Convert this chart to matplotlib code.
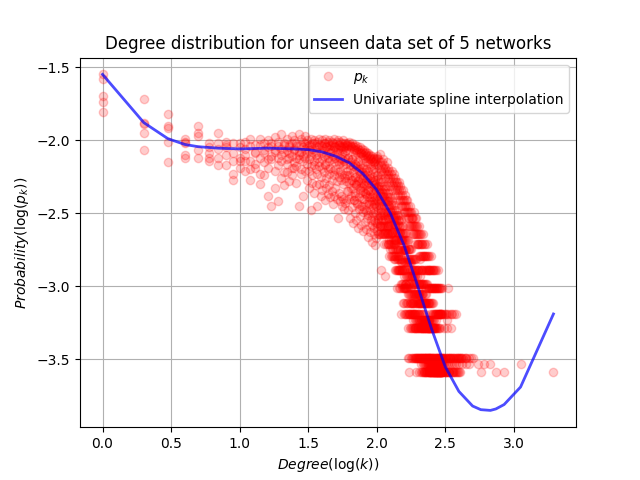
import numpy as np
import matplotlib
matplotlib.use("Agg")
import matplotlib.pyplot as plt

# ---------------- data ----------------
# sizes (number of nodes) of the 5 networks
network_sizes = [3090, 3890, 3390, 3890, 3090]

# log10(p_k) for degrees k = 1..100 (one list per network)
logp_net1 = [
    -1.55, -1.72, -1.82, -1.99, -1.90, -2.02, -1.95, -2.01, -2.02, -2.02,
    -2.01, -1.99, -2.03, -1.99, -2.02, -2.00, -2.04, -1.98, -2.01, -1.96,
    -2.02, -1.99, -2.03, -1.97, -2.00, -2.02, -1.96, -1.99, -2.01, -1.97,
    -2.00, -2.03, -1.99, -2.02, -2.00, -2.04, -2.01, -1.99, -2.03, -2.00,
    -2.02, -1.99, -2.04, -2.01, -2.00, -2.03, -2.01, -2.02, -1.99, -2.05,
    -2.01, -2.00, -2.03, -2.01, -2.04, -2.02, -2.00, -2.05, -2.02, -2.03,
    -2.02, -2.04, -2.01, -2.03, -2.05, -2.02, -2.04, -2.06, -2.03, -2.05,
    -2.07, -2.04, -2.06, -2.08, -2.05, -2.07, -2.09, -2.06, -2.08, -2.10,
    -2.07, -2.09, -2.11, -2.08, -2.10, -2.12, -2.09, -2.11, -2.13, -2.10,
    -2.12, -2.14, -2.11, -2.13, -2.15, -2.12, -2.14, -2.16, -2.13, -2.12,
]
logp_net2 = [
    -1.58, -1.88, -1.90, -2.02, -1.95, -2.09, -2.02, -2.05, -2.09, -2.05,
    -2.06, -2.04, -2.09, -2.03, -2.07, -2.05, -2.02, -2.08, -2.04, -2.06,
    -2.03, -2.07, -2.05, -2.02, -2.06, -2.04, -2.08, -2.03, -2.05, -2.02,
    -2.04, -2.07, -2.03, -2.06, -2.02, -2.08, -2.05, -2.03, -2.07, -2.04,
    -2.06, -2.02, -2.05, -2.08, -2.04, -2.06, -2.03, -2.07, -2.05, -2.04,
    -2.08, -2.06, -2.03, -2.07, -2.05, -2.09, -2.06, -2.04, -2.08, -2.07,
    -2.03, -2.12, -2.06, -2.15, -2.04, -2.13, -2.18, -2.07, -2.16, -2.10,
    -2.19, -2.08, -2.14, -2.21, -2.11, -2.17, -2.09, -2.22, -2.13, -2.19,
    -2.24, -2.12, -2.20, -2.15, -2.26, -2.14, -2.21, -2.27, -2.16, -2.24,
    -2.18, -2.29, -2.20, -2.25, -2.31, -2.19, -2.27, -2.22, -2.32, -2.24,
]
logp_net3 = [
    -1.70, -1.89, -1.92, -2.10, -1.97, -2.12, -2.06, -2.10, -2.14, -2.12,
    -2.10, -2.14, -2.08, -2.12, -2.09, -2.13, -2.11, -2.07, -2.12, -2.10,
    -2.08, -2.13, -2.09, -2.11, -2.07, -2.12, -2.10, -2.08, -2.11, -2.06,
    -2.09, -2.13, -2.11, -2.08, -2.14, -2.10, -2.12, -2.15, -2.09, -2.13,
    -2.11, -2.16, -2.10, -2.12, -2.14, -2.09, -2.13, -2.11, -2.15, -2.12,
    -2.10, -2.14, -2.16, -2.12, -2.15, -2.13, -2.17, -2.14, -2.12, -2.16,
    -2.21, -2.12, -2.24, -2.17, -2.27, -2.13, -2.22, -2.29, -2.16, -2.25,
    -2.31, -2.18, -2.27, -2.20, -2.33, -2.23, -2.29, -2.19, -2.35, -2.26,
    -2.31, -2.22, -2.37, -2.28, -2.24, -2.34, -2.29, -2.39, -2.26, -2.35,
    -2.31, -2.42, -2.28, -2.37, -2.33, -2.44, -2.30, -2.39, -2.35, -2.41,
]
logp_net4 = [
    -1.74, -1.95, -2.01, -2.12, -2.07, -2.14, -2.12, -2.17, -2.23, -2.14,
    -2.14, -2.20, -2.16, -2.23, -2.15, -2.19, -2.13, -2.21, -2.17, -2.14,
    -2.22, -2.16, -2.12, -2.19, -2.15, -2.18, -2.13, -2.20, -2.14, -2.12,
    -2.16, -2.21, -2.18, -2.24, -2.17, -2.20, -2.23, -2.18, -2.25, -2.19,
    -2.22, -2.17, -2.26, -2.20, -2.23, -2.19, -2.27, -2.21, -2.24, -2.20,
    -2.28, -2.22, -2.25, -2.21, -2.27, -2.23, -2.30, -2.24, -2.26, -2.28,
    -2.24, -2.35, -2.29, -2.20, -2.38, -2.27, -2.33, -2.41, -2.25, -2.36,
    -2.30, -2.43, -2.28, -2.39, -2.34, -2.26, -2.45, -2.32, -2.40, -2.29,
    -2.47, -2.36, -2.31, -2.44, -2.38, -2.50, -2.34, -2.42, -2.48, -2.37,
    -2.44, -2.52, -2.39, -2.46, -2.41, -2.55, -2.43, -2.49, -2.45, -2.57,
]
logp_net5 = [
    -1.81, -2.07, -2.15, -2.01, -2.12, -2.05, -2.17, -2.03, -2.27, -2.19,
    -2.21, -2.27, -2.19, -2.30, -2.24, -2.38, -2.45, -2.33, -2.42, -2.26,
    -2.31, -2.22, -2.28, -2.24, -2.19, -2.29, -2.45, -2.23, -2.38, -2.21,
    -2.27, -2.33, -2.48, -2.29, -2.36, -2.31, -2.45, -2.30, -2.38, -2.34,
    -2.29, -2.41, -2.33, -2.37, -2.31, -2.39, -2.35, -2.44, -2.38, -2.33,
    -2.40, -2.53, -2.36, -2.42, -2.38, -2.45, -2.40, -2.47, -2.43, -2.41,
    -2.35, -2.48, -2.40, -2.53, -2.33, -2.46, -2.57, -2.41, -2.50, -2.38,
    -2.55, -2.44, -2.60, -2.47, -2.36, -2.52, -2.58, -2.45, -2.62, -2.49,
    -2.40, -2.56, -2.61, -2.48, -2.53, -2.66, -2.51, -2.44, -2.59, -2.63,
    -2.55, -2.70, -2.58, -2.50, -2.64, -2.60, -2.72, -2.56, -2.67, -2.62,
]

# node counts for degrees k = 101..300 (one list per network)
cnt_net1 = [
    24, 21, 23, 20, 22, 25, 19, 21, 22, 18, 20, 23, 19, 21, 17, 20, 18, 22, 19, 17,
    18, 20, 16, 19, 17, 15, 18, 16, 19, 14, 17, 15, 18, 16, 14, 17, 13, 16, 15, 14,
    16, 13, 15, 12, 14, 16, 13, 12, 15, 11, 14, 12, 13, 11, 12, 14, 10, 12, 11, 13,
    11, 10, 12, 9, 11, 10, 12, 9, 10, 11, 8, 10, 9, 11, 8, 10, 9, 8, 10, 9,
    8, 9, 7, 9, 8, 10, 7, 8, 9, 7, 8, 6, 8, 7, 9, 6, 7, 8, 6, 7,
    6, 7, 5, 8, 6, 5, 7, 6, 4, 6, 7, 5, 6, 5, 4, 6, 5, 7, 5, 4,
    5, 6, 4, 5, 3, 5, 6, 4, 5, 4, 3, 5, 4, 6, 4, 3, 5, 4, 3, 4,
    4, 3, 5, 3, 4, 2, 4, 3, 4, 5, 3, 2, 4, 3, 3, 4, 2, 3, 4, 3,
    3, 2, 4, 3, 2, 3, 4, 2, 3, 2, 3, 4, 2, 3, 2, 1, 3, 2, 4, 2,
    2, 3, 2, 1, 3, 2, 3, 2, 1, 2, 3, 2, 2, 1, 3, 2, 2, 1, 2, 3,
]
cnt_net2 = [
    22, 19, 21, 18, 20, 17, 21, 19, 16, 20, 18, 17, 19, 16, 18, 15, 17, 19, 16, 15,
    17, 14, 16, 15, 13, 16, 14, 12, 15, 13, 14, 12, 13, 11, 14, 12, 10, 13, 11, 12,
    10, 12, 11, 9, 11, 10, 12, 9, 10, 8, 11, 9, 10, 8, 9, 10, 7, 9, 8, 9,
    7, 8, 9, 7, 8, 6, 8, 7, 6, 8, 7, 6, 7, 5, 7, 6, 5, 7, 6, 5,
    6, 5, 6, 4, 5, 6, 5, 4, 6, 5, 4, 5, 6, 4, 5, 3, 5, 4, 4, 5,
    5, 4, 3, 5, 4, 6, 4, 3, 5, 4, 3, 4, 5, 3, 4, 2, 4, 3, 4, 3,
    3, 4, 2, 3, 4, 3, 2, 3, 4, 2, 3, 2, 3, 4, 2, 3, 2, 3, 2, 3,
    2, 3, 2, 1, 3, 2, 2, 3, 1, 2, 2, 3, 2, 1, 2, 2, 1, 3, 2, 2,
    2, 1, 2, 1, 2, 0, 2, 1, 2, 1, 1, 2, 0, 1, 2, 1, 1, 0, 2, 1,
    1, 0, 1, 2, 1, 1, 0, 1, 1, 0, 2, 1, 0, 1, 1, 0, 1, 1, 0, 1,
]
cnt_net3 = [
    14, 16, 13, 15, 12, 14, 13, 11, 15, 12, 13, 14, 11, 12, 4, 10, 12, 11, 13, 10,
    11, 10, 12, 9, 11, 10, 9, 11, 8, 10, 9, 8, 10, 9, 7, 9, 8, 10, 7, 8,
    8, 7, 9, 6, 8, 7, 6, 8, 7, 5, 7, 6, 7, 5, 6, 7, 5, 6, 4, 6,
    5, 6, 4, 5, 6, 4, 5, 3, 5, 4, 5, 4, 3, 5, 4, 3, 4, 5, 3, 4,
    3, 4, 3, 4, 2, 4, 3, 3, 4, 2, 3, 4, 2, 3, 3, 2, 4, 3, 2, 3,
    3, 2, 3, 2, 3, 4, 2, 3, 2, 2, 3, 1, 3, 2, 2, 3, 2, 1, 3, 2,
    2, 1, 2, 3, 2, 2, 1, 2, 2, 1, 3, 2, 1, 2, 2, 1, 2, 1, 2, 1,
    1, 2, 2, 1, 1, 2, 1, 0, 2, 1, 1, 2, 1, 1, 0, 2, 1, 1, 1, 0,
    1, 1, 0, 2, 1, 0, 1, 1, 1, 0, 1, 2, 0, 1, 1, 0, 1, 0, 1, 1,
    0, 1, 1, 0, 1, 0, 1, 1, 0, 1, 0, 1, 1, 0, 0, 1, 0, 1, 1, 0,
]
cnt_net4 = [
    12, 13, 11, 14, 10, 12, 11, 13, 10, 12, 9, 11, 12, 10, 11, 9, 10, 12, 9, 10,
    9, 10, 8, 9, 10, 7, 9, 8, 7, 9, 8, 7, 8, 6, 8, 7, 6, 8, 7, 6,
    7, 6, 5, 7, 6, 5, 6, 7, 5, 4, 6, 5, 4, 6, 3, 4, 5, 3, 5, 4,
    4, 5, 3, 4, 4, 3, 5, 3, 4, 2, 4, 1, 4, 3, 2, 3, 4, 3, 2, 3,
    3, 2, 3, 3, 2, 3, 2, 4, 2, 3, 2, 2, 3, 1, 2, 3, 2, 2, 3, 2,
    2, 3, 2, 1, 3, 2, 2, 3, 1, 2, 3, 2, 1, 2, 2, 3, 1, 2, 2, 1,
    2, 1, 2, 2, 1, 3, 1, 2, 1, 2, 1, 1, 2, 1, 2, 0, 1, 2, 1, 1,
    1, 2, 1, 1, 0, 1, 2, 1, 1, 0, 1, 2, 1, 0, 1, 1, 1, 0, 2, 1,
    1, 0, 1, 1, 0, 1, 1, 0, 1, 1, 0, 1, 0, 1, 1, 0, 1, 0, 0, 1,
    1, 0, 1, 0, 1, 0, 0, 1, 1, 0, 0, 1, 0, 1, 0, 0, 1, 0, 1, 0,
]
cnt_net5 = [
    8, 7, 9, 7, 8, 7, 4, 8, 7, 9, 7, 8, 7, 6, 8, 7, 6, 8, 7, 6,
    6, 7, 5, 6, 7, 6, 5, 6, 7, 5, 6, 5, 6, 5, 4, 6, 5, 4, 5, 4,
    3, 5, 4, 5, 4, 3, 4, 5, 3, 4, 2, 4, 3, 4, 3, 4, 3, 2, 3, 3,
    3, 2, 3, 2, 3, 2, 3, 1, 2, 3, 2, 2, 1, 3, 2, 2, 1, 2, 3, 2,
    2, 1, 2, 2, 1, 2, 1, 2, 2, 1, 2, 1, 1, 2, 1, 2, 1, 1, 2, 1,
    1, 2, 1, 1, 2, 1, 0, 1, 2, 1, 1, 0, 2, 1, 1, 1, 0, 2, 1, 1,
    1, 0, 1, 1, 2, 1, 0, 1, 1, 0, 1, 1, 0, 1, 1, 0, 1, 0, 1, 1,
    0, 1, 1, 0, 1, 0, 1, 1, 0, 1, 0, 0, 1, 1, 0, 1, 0, 0, 1, 0,
    1, 0, 0, 1, 0, 1, 0, 0, 1, 0, 1, 0, 0, 1, 0, 0, 1, 0, 0, 1,
    0, 0, 1, 0, 1, 0, 0, 0, 1, 0, 0, 1, 0, 0, 1, 0, 0, 0, 1, 0,
]

# high-degree tail (k > 300): degrees present and their node counts
tail_k_net1 = [302, 305, 308, 311, 314, 317, 320, 323, 326, 329, 331, 334, 337,
               341, 344, 347, 350, 354, 357, 361, 365, 369, 373, 377, 380, 385,
               390, 396, 402, 409, 415, 422, 430, 441, 452, 468, 487, 501]
tail_c_net1 = [2, 1, 2, 1, 2, 1, 2, 1, 2, 1, 3, 1, 2, 1, 1, 2, 1, 1, 2, 1,
               1, 2, 1, 1, 2, 1, 1, 1, 1, 1, 1, 1, 1, 1, 1, 1, 1, 1]
tail_k_net2 = [302, 306, 309, 313, 318, 322, 327, 331, 336, 340, 347, 352, 359,
               366, 374, 383, 392, 404, 575, 741]
tail_c_net2 = [1, 1, 2, 1, 1, 1, 2, 1, 1, 1, 2, 1, 1, 1, 1, 1, 1, 1, 1, 1]
tail_k_net3 = [303, 311, 318, 326, 334, 345, 356, 368, 381, 397, 420, 446, 470,
               550, 603, 676, 1122]
tail_c_net3 = [1, 1, 1, 2, 1, 1, 1, 1, 1, 1, 1, 1, 1, 1, 1, 1, 1]
tail_k_net4 = [305, 314, 323, 335, 348, 362, 379, 399, 851, 1950]
tail_c_net4 = [1, 1, 1, 1, 1, 1, 1, 1, 1, 1]
tail_k_net5 = [306, 318, 329, 343, 361, 384, 412, 447]
tail_c_net5 = [1, 1, 1, 1, 1, 1, 1, 1]

# univariate spline curve (log k, log p_k)
spline_x = [0.0, 0.301, 0.477, 0.602, 0.699, 0.845, 1.0, 1.2, 1.4, 1.5, 1.6,
            1.7, 1.8, 1.9, 2.0, 2.1, 2.2, 2.3, 2.4, 2.5, 2.6, 2.7, 2.76, 2.83,
            2.87, 2.93, 3.05, 3.29]
spline_y = [-1.55, -1.88, -1.99, -2.03, -2.045, -2.055, -2.06, -2.055, -2.06,
            -2.065, -2.08, -2.11, -2.155, -2.23, -2.34, -2.50, -2.72, -3.00,
            -3.29, -3.55, -3.72, -3.82, -3.845, -3.85, -3.84, -3.81, -3.69, -3.19]

# ---------------- build points ----------------
logp_all = [logp_net1, logp_net2, logp_net3, logp_net4, logp_net5]
cnt_all = [cnt_net1, cnt_net2, cnt_net3, cnt_net4, cnt_net5]
tk_all = [tail_k_net1, tail_k_net2, tail_k_net3, tail_k_net4, tail_k_net5]
tc_all = [tail_c_net1, tail_c_net2, tail_c_net3, tail_c_net4, tail_c_net5]

xs, ys = [], []
for logp, cnt, tk, tc, n_nodes in zip(logp_all, cnt_all, tk_all, tc_all, network_sizes):
    k_low = np.arange(1, len(logp) + 1)
    xs.extend(np.log10(k_low))
    ys.extend(logp)
    cnt = np.asarray(cnt, dtype=float)
    k_mid = np.arange(101, 101 + len(cnt))
    m = cnt > 0
    xs.extend(np.log10(k_mid[m]))
    ys.extend(np.log10(cnt[m] / n_nodes))
    m2 = min(len(tk), len(tc))
    tk = np.asarray(tk[:m2], dtype=float)
    tc = np.asarray(tc[:m2], dtype=float)
    xs.extend(np.log10(tk))
    ys.extend(np.log10(tc / n_nodes))

# ---------------- plot ----------------
fig = plt.figure(figsize=(6.4, 4.8), dpi=100)
plt.plot(xs, ys, 'ro', alpha=0.2, label='$p_k$')
plt.plot(spline_x, spline_y, 'b-', lw=2, alpha=0.7,
         label='Univariate spline interpolation')
plt.title('Degree distribution for unseen data set of 5 networks')
plt.xlabel(r'$Degree(\log(k))$')
plt.ylabel(r'$Probability(\log(p_k))$')
plt.legend(loc='upper right')
plt.grid(True)
plt.savefig('out.png', dpi=100)
